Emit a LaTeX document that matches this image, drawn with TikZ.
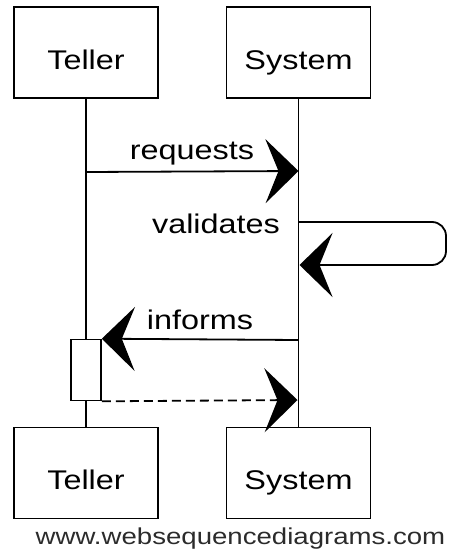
\documentclass[tikz,border=0pt]{standalone}
\usepackage{fontspec}
\setmainfont{Liberation Sans}
\usetikzlibrary{arrows.meta}
\newcommand\hwlabel[1]{\scalebox{1.2}[1]{\fontsize{27}{30}\selectfont #1}}
\definecolor{footgray}{HTML}{2B2B2B}
\begin{document}
\begin{tikzpicture}[x=1pt,y=-1pt,
  actor/.style={draw, line width=1.8pt, minimum width=144pt, minimum height=91pt,
    text height=33pt, text depth=0pt, inner sep=0pt},
  life/.style={line width=1.4pt},
  msg/.style={line width=1.8pt, -{Stealth[length=33pt,width=64pt,inset=13pt]}},
  retmsg/.style={msg, dash pattern=on 9pt off 5pt},
  lbl/.style={anchor=base, inner sep=0pt},
  actbox/.style={draw, fill=white, line width=1.6pt, minimum width=30pt, minimum height=61pt, inner sep=0pt}
]
\useasboundingbox (0,0) rectangle (452,554);

% actor boxes
\node[actor] (tt) at (86,52.5) {\hwlabel{Teller}};
\node[actor] (st) at (298.5,52.5) {\hwlabel{System}};
\node[actor] (tb) at (86,473) {\hwlabel{Teller}};
\node[actor] (sb) at (298.5,473) {\hwlabel{System}};

% lifelines
\draw[life] (tt.south) -- (tb.north);
\draw[life] (st.south) -- (sb.north);

% activation
\node[actbox] (act) at (86,370) {};

% message end points
\coordinate (r1) at (86,172);
\coordinate (r2) at (298.5,171);
\coordinate (v1) at (298.5,222);
\coordinate (v2) at (299.5,265);
\coordinate (i1) at (298.5,340);
\coordinate (d2) at (297.5,400);

% messages
\draw[msg] (r1) -- (r2);
\node[lbl] (lreq) at (192,159) {\hwlabel{requests}};

\draw[msg, rounded corners=14pt] (v1) -- (446,222) -- (446,265) -- (v2);
\node[lbl] (lval) at (216,233) {\hwlabel{validates}};

\draw[msg] (i1) -- (act.north east);
\node[lbl] (linf) at (200,329) {\hwlabel{informs}};

\draw[retmsg] (act.south east) -- (d2);

% footer
\node[lbl, text=footgray] (foot) at (240.5,544)
  {\scalebox{1.2}[1]{\fontsize{23}{25}\selectfont www.websequencediagrams.com}};
\end{tikzpicture}
\end{document}
